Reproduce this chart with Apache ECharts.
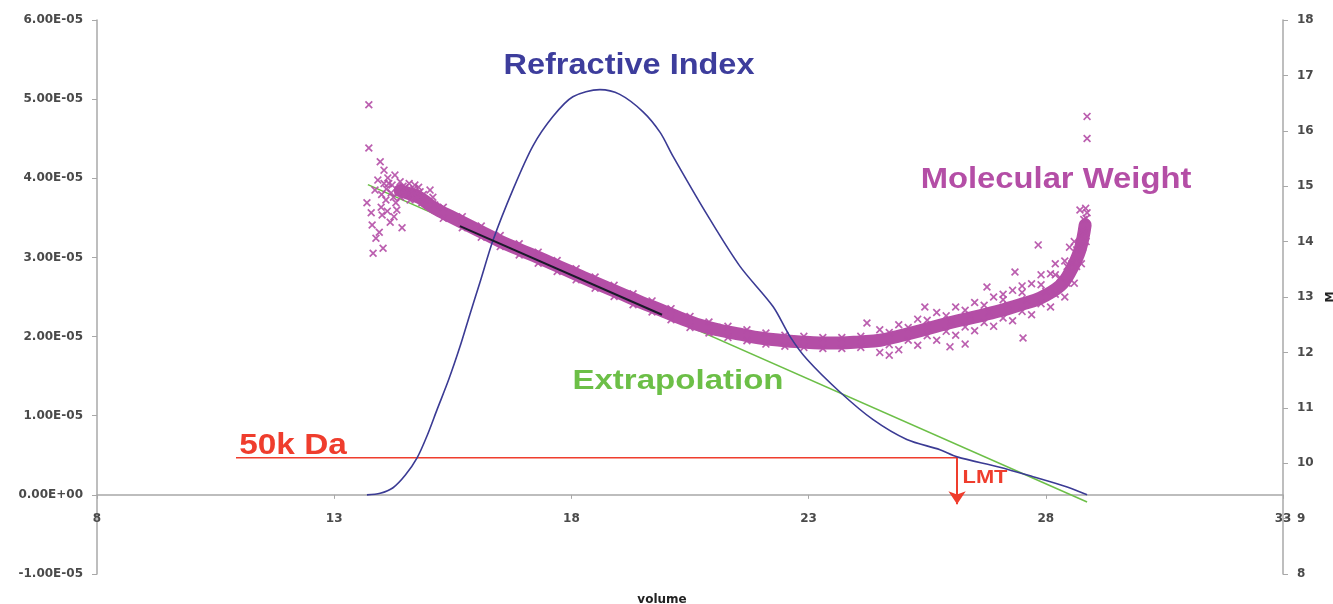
<!DOCTYPE html>
<html>
<head>
<meta charset="utf-8">
<title>Refractive index and molecular weight vs volume</title>
<script src="https://cdn.jsdelivr.net/npm/echarts@6/dist/echarts.min.js"></script>
<style>
  html, body { margin: 0; padding: 0; background: #fff; }
  #chart { width: 1333px; height: 604px; }
</style>
</head>
<body>
<div id="chart"></div>
<script>
// refractive index trace, left axis
const riVolume = [13.69, 13.97, 14.24, 14.50, 14.75, 14.96, 15.17, 15.41, 15.65, 15.86, 16.07, 16.35, 16.77, 17.19, 17.61, 18.03, 18.60, 19.02, 19.51, 19.87, 20.14, 20.86, 21.55, 22.25, 22.61, 22.97, 23.66, 24.36, 25.07, 25.77, 26.13, 27.03, 27.73, 28.45, 28.87];
const riSignal = [0, 0.02e-5, 0.09e-5, 0.25e-5, 0.47e-5, 0.75e-5, 1.08e-5, 1.45e-5, 1.87e-5, 2.28e-5, 2.68e-5, 3.22e-5, 3.86e-5, 4.41e-5, 4.78e-5, 5.03e-5, 5.12e-5, 5.06e-5, 4.84e-5, 4.58e-5, 4.28e-5, 3.54e-5, 2.89e-5, 2.38e-5, 2.00e-5, 1.71e-5, 1.30e-5, 0.95e-5, 0.70e-5, 0.57e-5, 0.48e-5, 0.35e-5, 0.23e-5, 0.10e-5, 0];

// molecular weight, right axis: dense band centre + individual points
const mwBandVolume = [14.39, 14.60, 14.81, 15.02, 15.23, 15.44, 15.65, 16.07, 16.49, 16.92, 17.34, 17.76, 18.18, 18.60, 19.02, 19.45, 19.87, 20.29, 20.71, 21.13, 21.55, 21.98, 22.40, 22.82, 23.24, 23.66, 24.08, 24.51, 24.93, 25.35, 25.77, 26.19, 26.61, 27.03, 27.46, 27.88, 28.30, 28.51, 28.72, 28.83];
const mwBandValue = [14.92, 14.86, 14.79, 14.66, 14.55, 14.46, 14.37, 14.19, 14.01, 13.85, 13.70, 13.54, 13.38, 13.22, 13.07, 12.91, 12.77, 12.62, 12.49, 12.40, 12.33, 12.26, 12.22, 12.19, 12.17, 12.17, 12.19, 12.22, 12.30, 12.39, 12.49, 12.58, 12.66, 12.75, 12.86, 12.98, 13.20, 13.45, 13.85, 14.30];
const mwPoints = [
  // early cluster
  [13.73, 16.47], [13.73, 15.69], [13.69, 14.70], [13.80, 14.30], [13.82, 13.79], [14.03, 13.88], [13.88, 14.06],
  [13.97, 15.44], [14.05, 15.29], [13.92, 15.11], [14.13, 15.15], [14.22, 15.02], [13.86, 14.93], [14.09, 14.75],
  [14.28, 15.20], [14.39, 15.08], [14.01, 14.48], [14.18, 14.35], [14.32, 14.57], [14.49, 14.97], [14.60, 14.75],
  [14.70, 15.02], [14.81, 14.90], [14.43, 14.25], [13.78, 14.52], [13.95, 14.17], [14.91, 14.75], [15.02, 14.93],
  [15.12, 14.66], [14.55, 14.85], [14.65, 14.88], [14.75, 14.80], [14.85, 14.70], [14.25, 14.80], [14.10, 14.95],
  [13.99, 14.62], [14.35, 14.90], [14.15, 15.05], [14.20, 14.88], [14.30, 14.70], [14.40, 14.80], [14.05, 15.05],
  [14.45, 15.00], [14.58, 15.05], [14.68, 14.95], [14.78, 14.98], [14.88, 14.85], [15.08, 14.80], [14.00, 14.85],
  [14.12, 14.55], [14.26, 14.45],
  // upper edge of band
  [15.3, 14.62], [15.7, 14.45], [16.1, 14.28], [16.5, 14.11], [16.9, 13.96], [17.3, 13.81], [17.7, 13.66],
  [18.1, 13.51], [18.5, 13.36], [18.9, 13.21], [19.3, 13.06], [19.7, 12.93], [20.1, 12.79], [20.5, 12.65],
  [20.9, 12.55], [21.3, 12.47], [21.7, 12.41], [22.1, 12.35], [22.5, 12.31], [22.9, 12.29], [23.3, 12.27],
  [23.7, 12.27], [24.1, 12.29], [24.5, 12.41], [24.9, 12.50], [25.3, 12.60], [25.7, 12.72], [26.1, 12.82],
  [26.5, 12.90], [26.9, 13.00], [27.3, 13.12], [27.7, 13.24], [28.1, 13.42], [28.4, 13.65], [28.6, 14.00],
  [24.23, 12.53], [25.45, 12.82], [26.76, 13.18], [27.35, 13.45], [27.84, 13.94], [28.72, 14.57], [28.87, 14.52],
  [28.80, 14.40], [28.87, 16.26], [28.87, 15.86],
  // lower edge of band
  [15.3, 14.42], [15.7, 14.25], [16.1, 14.08], [16.5, 13.91], [16.9, 13.76], [17.3, 13.61], [17.7, 13.46],
  [18.1, 13.31], [18.5, 13.16], [18.9, 13.01], [19.3, 12.86], [19.7, 12.73], [20.1, 12.59], [20.5, 12.45],
  [20.9, 12.35], [21.3, 12.27], [21.7, 12.21], [22.1, 12.15], [22.5, 12.11], [22.9, 12.09], [23.3, 12.07],
  [23.7, 12.07], [24.1, 12.09], [24.5, 12.00], [24.9, 12.05], [25.3, 12.13], [25.7, 12.22], [26.1, 12.31],
  [26.5, 12.39], [26.9, 12.47], [27.3, 12.57], [27.7, 12.68], [28.1, 12.82], [28.4, 13.00], [28.6, 13.25],
  [28.75, 13.60], [28.85, 14.00], [25.98, 12.10], [27.52, 12.26], [24.7, 11.95], [26.3, 12.15],
  // noisy tail, wider band
  [25.5, 12.45], [26.0, 12.55], [26.4, 12.66], [26.8, 12.72], [27.2, 12.85], [27.6, 12.95], [28.0, 13.10],
  [28.3, 13.35], [28.55, 13.60], [28.7, 13.95], [28.8, 14.15], [28.85, 14.42], [28.2, 13.60], [28.5, 13.90],
  [27.9, 13.40], [27.5, 13.20], [27.1, 13.05],
  [24.7, 12.36], [24.7, 12.14], [25.1, 12.45], [25.1, 12.22], [25.5, 12.58], [25.5, 12.30], [25.9, 12.66],
  [25.9, 12.38], [26.3, 12.76], [26.3, 12.46], [26.7, 12.85], [26.7, 12.54], [27.1, 12.95], [27.1, 12.62],
  [27.5, 13.08], [27.5, 12.74], [27.9, 13.22], [27.9, 12.88], [28.2, 13.40], [28.2, 13.05], [28.45, 13.55],
  [28.45, 13.25], [28.65, 13.85], [28.65, 13.55], [28.78, 14.20], [28.78, 13.90], [28.84, 14.60]
];

// straight fit through the linear part of MW (right axis)
const fitVolume = [15.65, 19.91];
const fitValue = [14.28, 12.68];

// extrapolation (left axis)
const extraVolume = [13.71, 28.87];
const extraSignal = [3.92e-5, -0.09e-5];

// 50k Da level and LMT arrow
const limitVolume = [10.93, 26.13];
const limitSignal = 0.47e-5;
const lmtVolume = 26.13;
const lmtArrowEnd = -0.12e-5;

const leftMin = -1e-5, leftMax = 6e-5, leftStep = 1e-5;
const rightMin = 8, rightMax = 18, rightStep = 1;
const volMin = 8, volMax = 33, volStep = 5;

const blue = '#3b3b94';
const magenta = '#b44ea6';
const green = '#6cbf47';
const red = '#ef3d2d';
const axisGrey = '#a8a8a8';
const labelFont = { fontFamily: 'DejaVu Sans', fontSize: 12, fontWeight: 'bold', color: '#4a4a4a' };

const zip = (xs, ys) => xs.map((x, i) => [x, ys[i]]);

function sci(v) {
  const s = Number(v).toExponential(2).toUpperCase();
  return s.replace(/E([+-])(\d)$/, 'E$10$2');
}

const crossPath = 'path://M0,1.5L1.5,0L5,3.5L8.5,0L10,1.5L6.5,5L10,8.5L8.5,10L5,6.5L1.5,10L0,8.5L3.5,5Z';

function note(text, x, y, size, color, sx) {
  return {
    type: 'text', x: x, y: y, scaleX: sx || 1, silent: true, z: 20,
    style: {
      text: text, fill: color, textAlign: 'center', textVerticalAlign: 'middle',
      font: 'bold ' + size + 'px "Liberation Sans", Arial, sans-serif'
    }
  };
}

const chart = echarts.init(document.getElementById('chart'));
chart.setOption({
  animation: false,
  backgroundColor: '#fff',
  grid: { left: 97, right: 50, top: 20, bottom: 30, outerBoundsMode: 'none', containLabel: false },
  xAxis: {
    type: 'value', min: volMin, max: volMax, interval: volStep,
    axisLine: { show: true, onZero: true, lineStyle: { color: axisGrey, width: 1.5 } },
    axisTick: { show: true, length: 4, lineStyle: { color: axisGrey } },
    axisLabel: Object.assign({ margin: -61 }, labelFont),
    splitLine: { show: false }
  },
  yAxis: [
    {
      type: 'value', min: leftMin, max: leftMax, interval: leftStep,
      axisLine: { show: true, lineStyle: { color: axisGrey, width: 1.5 } },
      axisTick: { show: true, length: 5, lineStyle: { color: axisGrey } },
      axisLabel: Object.assign({ margin: 14, formatter: sci }, labelFont),
      splitLine: { show: false }
    },
    {
      type: 'value', position: 'right', min: rightMin, max: rightMax, interval: rightStep,
      name: 'M', nameLocation: 'middle', nameGap: 42, nameRotate: 90,
      nameTextStyle: { fontFamily: 'DejaVu Sans', fontSize: 11, fontWeight: 'bold', color: '#222' },
      axisLine: { show: true, lineStyle: { color: axisGrey, width: 1.5 } },
      axisTick: { show: true, length: 5, lineStyle: { color: axisGrey } },
      axisLabel: Object.assign({ margin: 14 }, labelFont),
      splitLine: { show: false }
    }
  ],
  series: [
    {
      name: '50k Da', type: 'line', yAxisIndex: 0, z: 3,
      data: limitVolume.map(v => [v, limitSignal]),
      symbol: 'none', lineStyle: { color: red, width: 1.5 },
      markLine: {
        silent: true, symbol: ['none', 'arrow'], symbolSize: 13,
        label: { show: false },
        lineStyle: { color: red, width: 2, type: 'solid' },
        data: [[{ coord: [lmtVolume, limitSignal] }, { coord: [lmtVolume, lmtArrowEnd] }]]
      }
    },
    {
      name: 'Extrapolation', type: 'line', yAxisIndex: 0, z: 2,
      data: zip(extraVolume, extraSignal),
      symbol: 'none', lineStyle: { color: green, width: 1.5 }
    },
    {
      name: 'MW band', type: 'line', yAxisIndex: 1, z: 4,
      data: zip(mwBandVolume, mwBandValue),
      smooth: 0.4, symbol: 'none',
      lineStyle: { color: magenta, width: 13, cap: 'round', join: 'round' }
    },
    {
      name: 'Molecular Weight', type: 'scatter', yAxisIndex: 1, z: 5,
      data: mwPoints, symbol: crossPath, symbolSize: 8,
      itemStyle: { color: magenta, opacity: 0.9 }
    },
    {
      name: 'Refractive Index', type: 'line', yAxisIndex: 0, z: 6,
      data: zip(riVolume, riSignal),
      smooth: 0.3, symbol: 'none', lineStyle: { color: blue, width: 1.6 }
    },
    {
      name: 'Fit', type: 'line', yAxisIndex: 1, z: 7,
      data: zip(fitVolume, fitValue),
      symbol: 'none', lineStyle: { color: '#1a1a2a', width: 2 }
    }
  ],
  graphic: [
    note('Refractive Index', 629, 66, 29, '#3d3d9c', 1.12),
    note('Molecular Weight', 1056, 180, 29, magenta, 1.13),
    note('Extrapolation', 678, 381, 28, green, 1.18),
    note('50k Da', 293, 446, 29, red, 1.15),
    note('LMT', 985, 478, 19, red, 1.15),
    {
      type: 'text', x: 662, y: 600, silent: true,
      style: { text: 'volume', fill: '#222', textAlign: 'center', textVerticalAlign: 'middle',
        font: 'bold 12px "DejaVu Sans", sans-serif' }
    }
  ]
});
</script>
</body>
</html>
